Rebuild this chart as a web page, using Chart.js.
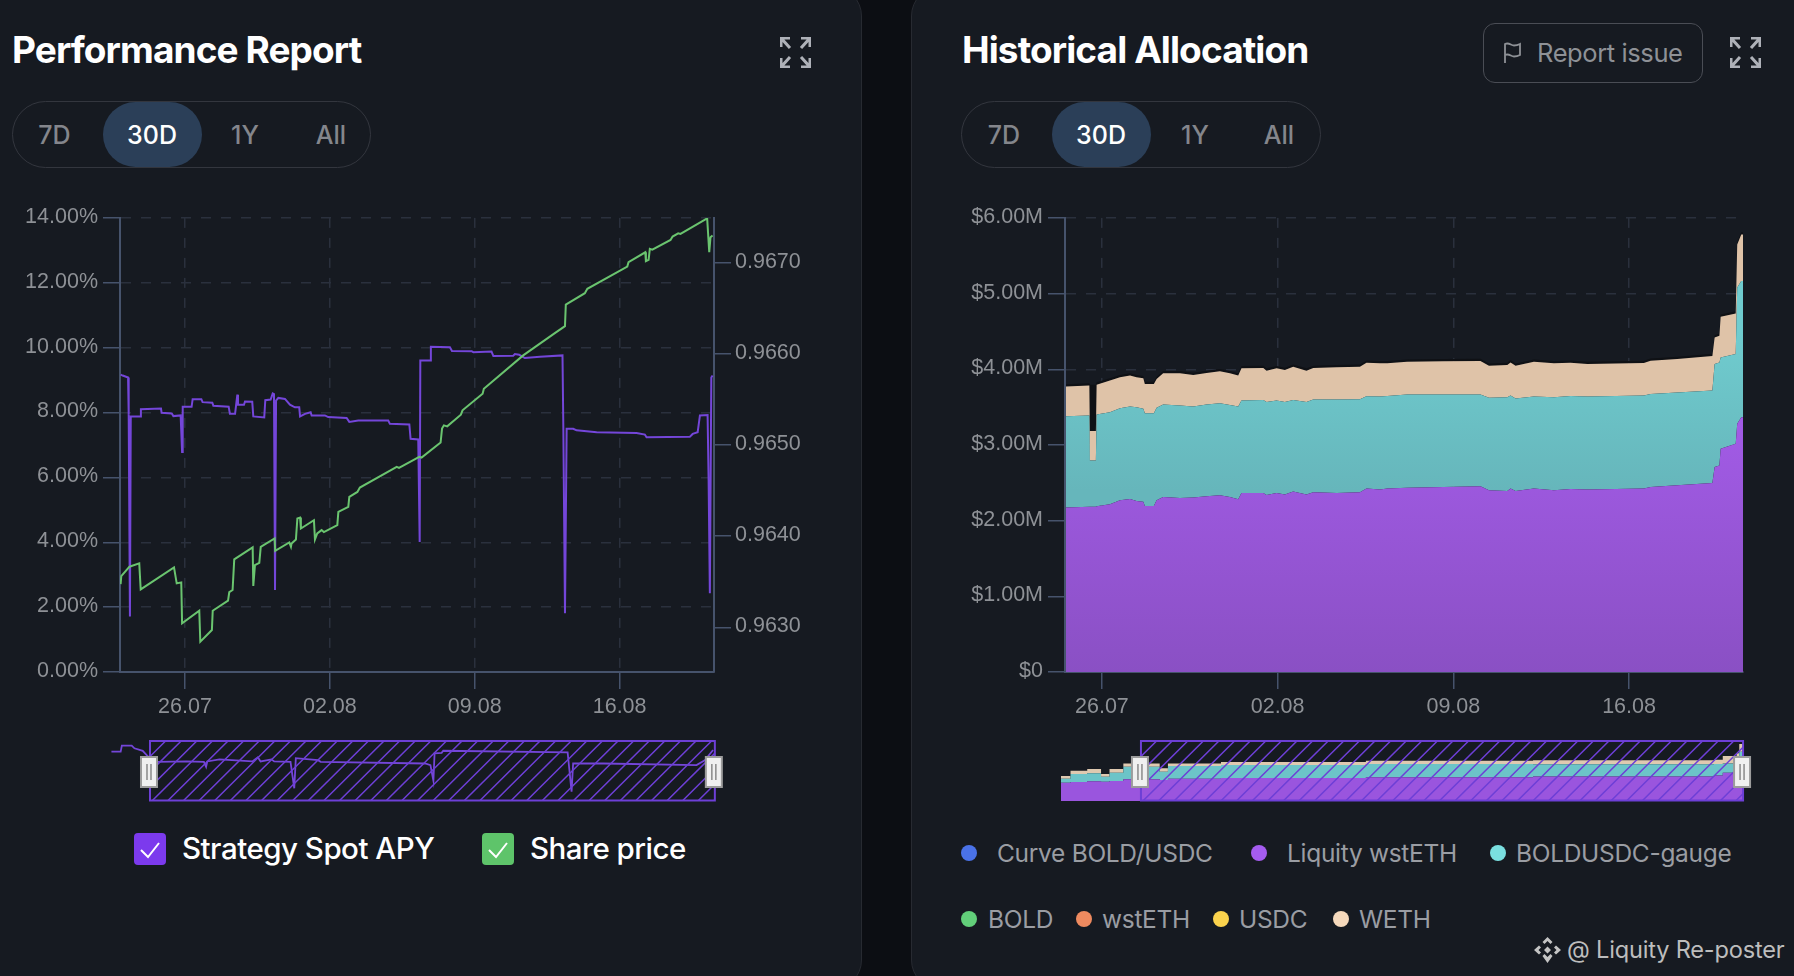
<!DOCTYPE html>
<html>
<head>
<meta charset="utf-8">
<title>Performance Report / Historical Allocation</title>
<script src="https://cdn.jsdelivr.net/npm/chart.js@4"></script>
<style>
  html, body { margin: 0; width: 1794px; height: 976px; overflow: hidden; background: #0c0e13; font-family: Inter, sans-serif; }
  .abs { position: absolute; white-space: nowrap; }
  canvas { position: absolute; display: block; }
  .panel { position: absolute; top: -14px; height: 1004px; background: #161a21; border: 1.5px solid #272a31; border-radius: 30px; box-sizing: border-box; }
  .title { color: #fff; font-size: 37px; font-weight: 700; letter-spacing: -0.9px; top: 28px; line-height: 44px; }
  .pill { top: 101px; height: 67px; box-sizing: border-box; border: 1.5px solid #33363e; border-radius: 34px; }
  .active { top: 102px; height: 65px; background: #2b3f58; border-radius: 33px; }
  .range { top: 102px; line-height: 67px; font-size: 25px; font-weight: 500; color: #84868c; transform: translateX(-50%); }
  .range.on { color: #fff; }
  .report { left: 1483px; top: 23px; width: 220px; height: 60px; box-sizing: border-box; border: 1.5px solid #4a4d55; border-radius: 12px; }
  .legend-check { top: 833px; width: 32px; height: 32px; border-radius: 4px; }
  .legend-big { top: 828px; line-height: 40px; font-size: 29.5px; font-weight: 500; color: #fff; letter-spacing: -0.5px; }
  .dot { width: 16px; height: 16px; border-radius: 50%; transform: translate(-50%, -50%); }
  .legend-small { line-height: 36px; font-size: 24.5px; color: #9a9da3; transform: translateY(-50%); letter-spacing: -0.3px; }
</style>
</head>
<body>
<div class="panel" style="left:-40px;width:902px"></div>
<div class="panel" style="left:911px;width:940px"></div>

<div class="abs title" style="left:12px">Performance Report</div>
<div class="abs title" style="left:962px">Historical Allocation</div>

<div class="abs pill" style="left:12px;width:359px"></div>
<div class="abs active" style="left:103px;width:99px"></div>
<div class="abs pill" style="left:961px;width:360px"></div>
<div class="abs active" style="left:1052px;width:99px"></div>
<div id="ranges"></div>

<svg class="abs" style="left:780px;top:37px" width="31" height="31" viewBox="0 0 31 31" fill="none" stroke="#aeb1b8" stroke-width="3"><path d="M1 10V1h9M1 1l9 10M30 10V1h-9M30 1l-9 10M1 21v9h9M1 30l9-10M30 21v9h-9M30 30l-9-10"/></svg>
<svg class="abs" style="left:1730px;top:37px" width="31" height="31" viewBox="0 0 31 31" fill="none" stroke="#aeb1b8" stroke-width="3"><path d="M1 10V1h9M1 1l9 10M30 10V1h-9M30 1l-9 10M1 21v9h9M1 30l9-10M30 21v9h-9M30 30l-9-10"/></svg>

<div class="abs report"></div>
<svg class="abs" style="left:1503px;top:42px" width="20" height="22" viewBox="0 0 20 22" fill="none" stroke="#8e9196" stroke-width="1.8"><path d="M2 21V2c4-2 6 1.500 9 1.500 2 0 4-.5 6-1.500v11c-2 1-4 1.500-6 1.500-3 0-5-3.500-9-1.500"/></svg>
<div class="abs" style="left:1537px;top:33px;line-height:40px;font-size:25.500px;color:#8e9196;letter-spacing:-0.4px">Report issue</div>

<canvas id="perfChart" width="860" height="530" style="left:0;top:200px"></canvas>
<canvas id="perfNav" width="630" height="80" style="left:100px;top:730px"></canvas>
<canvas id="allocChart" width="864" height="530" style="left:930px;top:200px"></canvas>
<canvas id="allocNav" width="710" height="80" style="left:1050px;top:730px"></canvas>

<div class="abs legend-check" style="left:134px;background:#7c3aed"></div>
<svg class="abs" style="left:139px;top:841px" width="22" height="18" viewBox="0 0 22 18" fill="none" stroke="#fff" stroke-width="2"><path d="M2 9l7 7L20 2"/></svg>
<div class="abs legend-big" style="left:182px">Strategy Spot APY</div>
<div class="abs legend-check" style="left:482px;background:#5ec46a"></div>
<svg class="abs" style="left:487px;top:841px" width="22" height="18" viewBox="0 0 22 18" fill="none" stroke="#fff" stroke-width="2"><path d="M2 9l7 7L20 2"/></svg>
<div class="abs legend-big" style="left:530px">Share price</div>
<div id="allocLegend"></div>

<svg class="abs" style="left:1534px;top:937px" width="27" height="26" viewBox="0 0 27 26" fill="#c4c4c4"><path d="M13.500 0l5 5-2 2-3-3-3 3-2-2zM5 8.500l2 2-2.500 2.500 2.500 2.500-2 2L0 13zM22 8.500l5 4.500-5 4.500-2-2 2.500-2.500-2.500-2.500zM13.500 9.500l3.500 3.500-3.500 3.500L10 13zM8.500 19l2-2 3 3 3-3 2 2-5 7z"/></svg>
<div class="abs" style="left:1567px;top:932px;line-height:36px;font-size:23.600px;color:#bdbdbd;letter-spacing:-0.2px">@ Liquity Re-poster</div>

<script>
// x values are days counted from 26.07
const dateTicks = [0, 7, 14, 21];
const dateLabels = ["26.07", "02.08", "09.08", "16.08"];
const rangeLabels = ["7D", "30D", "1Y", "All"];
const apyTicks = [0, 2, 4, 6, 8, 10, 12, 14];
const priceTicks = [0.963, 0.964, 0.965, 0.966, 0.967];
const allocTicks = [0, 1, 2, 3, 4, 5, 6];

const apyDays = [-3.11,-3.01,-2.75,-2.72,-2.66,-2.62,-2.17,-2.13,-1.16,-1.13,-0.64,-0.56,-0.21,-0.14,-0.11,0.32,0.37,0.79,0.85,1.32,1.37,2.11,2.17,2.42,2.53,2.56,2.85,2.90,3.25,3.30,3.83,3.88,4.14,4.24,4.30,4.35,4.40,4.51,4.83,5.07,5.31,5.52,5.56,5.80,6.07,6.12,6.76,6.92,7.81,7.94,8.37,9.82,9.90,10.84,10.90,11.27,11.34,11.37,11.84,11.88,12.80,12.90,13.85,13.93,14.81,14.90,15.86,15.94,16.15,16.42,17.15,18.24,18.28,18.36,18.44,18.76,18.92,19.89,21.82,22.22,22.30,24.39,24.53,24.77,24.88,25.25,25.30,25.36,25.43,25.49];
const apyValues = [9.17,9.14,9.08,7.95,1.71,7.88,7.88,8.10,8.12,7.99,7.97,7.89,7.91,6.78,8.18,8.18,8.41,8.41,8.32,8.30,8.21,8.18,7.96,7.96,8.55,8.24,8.24,8.34,8.33,7.88,7.85,8.38,8.40,8.59,8.57,2.53,8.37,8.45,8.42,8.24,8.16,8.16,7.88,7.96,8.01,7.91,7.91,7.86,7.83,7.71,7.75,7.75,7.65,7.63,7.19,7.17,4.01,9.60,9.60,10.03,10.01,9.90,9.89,9.86,9.88,9.74,9.75,9.80,9.78,9.68,9.72,9.76,7.55,1.81,7.50,7.50,7.45,7.39,7.37,7.32,7.24,7.25,7.34,7.39,7.91,7.92,5.90,2.43,9.08,9.14];

const priceDays = [-3.11,-3.08,-2.69,-2.62,-2.21,-2.14,-0.53,-0.40,-0.18,-0.14,0.69,0.74,1.30,1.34,2.08,2.14,2.30,2.38,3.27,3.30,3.38,3.59,3.66,4.33,4.36,5.04,5.12,5.15,5.36,5.43,5.56,5.60,6.23,6.28,6.39,6.60,6.71,7.36,7.41,7.89,7.94,8.33,8.45,10.23,10.34,11.32,11.43,12.35,12.42,12.51,12.67,13.33,13.41,14.38,14.44,16.34,17.87,18.36,18.40,19.32,19.44,21.37,21.43,22.24,22.27,22.40,22.46,22.58,23.46,23.56,23.83,23.94,25.23,25.33,25.39,25.49];
const priceValues = [0.963474,0.963562,0.963664,0.963670,0.963701,0.963416,0.963657,0.963482,0.963493,0.963044,0.963182,0.962843,0.962971,0.963182,0.963292,0.963387,0.963409,0.963745,0.963876,0.963453,0.963682,0.963708,0.963883,0.963974,0.963839,0.963931,0.963883,0.963920,0.963964,0.964193,0.964204,0.964084,0.964175,0.963964,0.964029,0.964066,0.964044,0.964120,0.964266,0.964321,0.964431,0.964485,0.964533,0.964759,0.964748,0.964869,0.964861,0.965026,0.965179,0.965215,0.965204,0.965332,0.965380,0.965562,0.965617,0.965982,0.966226,0.966303,0.966540,0.966664,0.966712,0.966956,0.967004,0.967113,0.967015,0.967029,0.967150,0.967142,0.967248,0.967285,0.967321,0.967314,0.967485,0.967113,0.967277,0.967296];

const navApyDays = [-5.10,-4.63,-4.57,-4.07,-3.93,-3.51,-3.24,-2.74,-1.29,-0.40,-0.29,-0.23,0.39,2.06,2.34,2.48,3.03,3.17,4.00,4.19,4.27,5.40,5.53,10.84,11.11,11.26,11.32,11.68,11.76,18.08,18.28,18.36,19.90,24.63,25.05,25.47];
const navApyValues = [10.07,10.07,11.54,11.54,10.9,10.3,8.9,7.6,7.7,7.6,6.4,7.7,8.2,7.7,8.7,7.7,8.2,7.7,7.6,1.15,8.5,8.0,7.6,7.2,6.8,3.0,9.7,9.8,10.3,9.9,0.3,7.2,7.2,6.8,8.0,10.5];

const allocDays = [-1.43,-0.50,-0.48,-0.24,-0.21,0.32,0.72,1.12,1.38,1.65,1.71,2.07,2.18,2.44,3.11,3.64,4.17,4.70,5.10,5.43,5.56,6.43,6.56,6.96,7.29,7.62,8.15,8.42,9.35,10.28,10.54,11.08,11.37,12.16,13.62,15.08,15.42,16.15,16.28,16.48,17.21,18.01,18.67,19.34,21.59,21.86,22.92,24.32,24.41,24.60,24.65,25.25,25.31,25.47,25.54];
const liquityWsteth = [2.173,2.182,2.182,2.182,2.191,2.217,2.270,2.287,2.261,2.248,2.195,2.195,2.270,2.313,2.300,2.305,2.322,2.335,2.313,2.283,2.366,2.366,2.340,2.366,2.344,2.384,2.344,2.375,2.366,2.375,2.423,2.410,2.423,2.436,2.445,2.454,2.401,2.392,2.423,2.392,2.423,2.401,2.419,2.410,2.423,2.445,2.467,2.498,2.708,2.730,2.950,3.016,3.279,3.367,3.367];
const boldusdcGauge = [1.207,1.207,0.614,0.614,1.211,1.216,1.216,1.220,1.238,1.229,1.225,1.225,1.220,1.221,1.221,1.202,1.212,1.216,1.216,1.224,1.220,1.229,1.229,1.220,1.225,1.211,1.225,1.225,1.234,1.229,1.221,1.229,1.225,1.230,1.221,1.212,1.221,1.238,1.229,1.221,1.216,1.229,1.229,1.229,1.229,1.229,1.225,1.220,1.361,1.361,1.207,1.185,1.800,1.800,1.800];
const weth = [0.391,0.395,0.387,0.387,0.395,0.417,0.408,0.409,0.395,0.404,0.386,0.386,0.382,0.412,0.425,0.417,0.417,0.422,0.417,0.409,0.426,0.422,0.413,0.426,0.421,0.439,0.413,0.417,0.425,0.430,0.443,0.439,0.430,0.434,0.439,0.443,0.425,0.426,0.439,0.434,0.461,0.448,0.439,0.430,0.431,0.439,0.443,0.457,0.352,0.351,0.536,0.536,0.571,0.614,0.614];
const darkTop = [0.03,0.03,0.614,0.614,0.03,0.03,0.03,0.03,0.03,0.03,0.03,0.03,0.03,0.03,0.03,0.03,0.03,0.03,0.03,0.03,0.03,0.03,0.03,0.03,0.03,0.03,0.03,0.03,0.03,0.03,0.03,0.03,0.03,0.03,0.03,0.03,0.03,0.03,0.03,0.03,0.03,0.03,0.03,0.03,0.03,0.03,0.03,0.03,0.03,0.03,0.03,0.03,0.03,0.03,0.03];
const curveSpikeDays = [-0.19,-0.19,-0.19,-0.19,-0.19];
const curveSpikeValues = [0,0.62,null,2.19,2.80];

const navAllocDays = [-5.06,-4.63,-3.88,-3.26,-2.88,-2.26,-0.63,-0.26,2.12,8.62,16.12,24.24,24.63,25.25,25.37,25.55];
const navWsteth = [1.79,1.85,1.92,1.89,1.95,2.11,2.05,2.18,2.24,2.31,2.40,2.50,2.76,2.86,3.67,3.67];
const navGauge = [0.39,0.78,0.78,0.48,0.81,1.24,0.81,1.23,1.27,1.30,1.18,1.10,0.91,1.14,1.14,1.14];
const navWeth = [0.26,0.33,0.42,0.26,0.36,0.32,0.33,0.26,0.29,0.32,0.40,0.42,0.72,0.65,0.75,0.75];

const allocLegendNames = ["Curve BOLD/USDC", "Liquity wstETH", "BOLDUSDC-gauge", "BOLD", "wstETH", "USDC", "WETH"];
const allocLegendColors = ["#4a72e8", "#a55cf0", "#7adfe0", "#62cf7a", "#ee8a5f", "#fbd34d", "#f5d9bc"];

const TICK = "#8e9196", AXIS = "#46536c", GRID = "#2a303d", PURPLE = "#7446d9", GREEN = "#6ac46f";

function pts(xs, ys) { return xs.map((x, i) => ({ x, y: ys[i] })); }

function setTicks(values) {
  return scale => { scale.ticks = values.map(value => ({ value })); };
}

function fit(prop, size) {
  return scale => { scale[prop] = size; };
}

function axisBase(extra) {
  return Object.assign({
    border: { color: AXIS, width: 2, dash: [10, 10] },
    grid: { color: GRID, tickColor: AXIS, tickLength: 17, tickBorderDash: [], lineWidth: 1.5 },
    ticks: { color: TICK, font: { family: "'Liberation Sans', Arial, sans-serif", size: 21.5 }, padding: 5, labelOffset: -1, maxRotation: 0, autoSkip: false }
  }, extra);
}

function xAxis(min, max) {
  const a = axisBase({ type: "linear", min, max, afterBuildTicks: setTicks(dateTicks), afterFit: fit("height", 58) });
  a.ticks.callback = v => dateLabels[dateTicks.indexOf(v)];
  a.ticks.padding = 5;
  a.ticks.labelOffset = 0;
  return a;
}

function vgrad(ctx, chart, stops) {
  const area = chart.chartArea;
  if (!area) return stops[0][1];
  const g = ctx.createLinearGradient(0, area.top, 0, area.bottom);
  stops.forEach(s => g.addColorStop(s[0], s[1]));
  return g;
}

const purpleFill = c => vgrad(c.chart.ctx, c.chart, [[0.45, "#a25be6"], [1, "#8a50c4"]]);
const tealFill = c => vgrad(c.chart.ctx, c.chart, [[0.25, "#70cccf"], [0.6, "#66b6bb"]]);

// hatched selection box with the two drag handles, for the small navigator charts
function navigatorPlugin(startDay, endDay) {
  return {
    id: "navigator",
    afterDatasetsDraw(chart) {
      const { ctx, scales } = chart;
      const x0 = scales.x.getPixelForValue(startDay), x1 = scales.x.getPixelForValue(endDay);
      const y0 = 11, y1 = 70.5;
      ctx.save();
      ctx.beginPath();
      ctx.rect(x0, y0, x1 - x0, y1 - y0);
      ctx.clip();
      ctx.strokeStyle = "#6d3fd6";
      ctx.lineWidth = 1.5;
      ctx.beginPath();
      for (let x = x0 - 60; x < x1 + 20; x += 15.6) {
        ctx.moveTo(x, y1);
        ctx.lineTo(x + 60, y0);
      }
      ctx.stroke();
      ctx.restore();
      ctx.strokeStyle = "#6d3fd6";
      ctx.lineWidth = 2;
      ctx.strokeRect(x0, y0, x1 - x0, y1 - y0);
      [x0 - 1, x1 - 1].forEach(x => {
        ctx.fillStyle = "#f0f0f0";
        ctx.strokeStyle = "#9c9c9c";
        ctx.lineWidth = 2;
        ctx.fillRect(x - 8, 27, 16, 30);
        ctx.strokeRect(x - 8, 27, 16, 30);
        ctx.strokeStyle = "#8a8a8a";
        ctx.lineWidth = 1.5;
        ctx.beginPath();
        ctx.moveTo(x - 2, 34); ctx.lineTo(x - 2, 50);
        ctx.moveTo(x + 2, 34); ctx.lineTo(x + 2, 50);
        ctx.stroke();
      });
    }
  };
}

const baseOpts = {
  responsive: false,
  animation: false,
  plugins: { legend: { display: false }, tooltip: { enabled: false } },
  elements: { point: { radius: 0 }, line: { tension: 0 } }
};

// range pills
const rangeSpots = [[54.5, 152, 245, 331], [1004, 1101, 1195, 1279]];
const rangesEl = document.getElementById("ranges");
rangeSpots.forEach(spots => {
  rangeLabels.forEach((label, i) => {
    const d = document.createElement("div");
    d.className = "abs range" + (i === 1 ? " on" : "");
    d.style.left = spots[i] + "px";
    d.textContent = label;
    rangesEl.appendChild(d);
  });
});

// allocation legend
const legendSpots = [[969, 997, 853], [1259, 1287, 853], [1498, 1516, 853], [969, 988, 919], [1084, 1102, 919], [1221, 1239, 919], [1341, 1359, 919]];
const legendEl = document.getElementById("allocLegend");
allocLegendNames.forEach((name, i) => {
  const [dotX, textX, y] = legendSpots[i];
  legendEl.insertAdjacentHTML("beforeend",
    `<div class="abs dot" style="left:${dotX}px;top:${y}px;background:${allocLegendColors[i]}"></div>` +
    `<div class="abs legend-small" style="left:${textX}px;top:${y}px">${name}</div>`);
});

// performance chart
const perfY = axisBase({ position: "left", min: 0, max: 14, afterBuildTicks: setTicks(apyTicks), afterFit: fit("width", 120) });
perfY.ticks.callback = v => v.toFixed(2) + "%";
const perfY1 = axisBase({ position: "right", min: 0.96251, max: 0.96749, afterBuildTicks: setTicks(priceTicks), afterFit: fit("width", 146) });
perfY1.ticks.callback = v => v.toFixed(4);
perfY1.ticks.padding = 4;
perfY1.grid = { drawOnChartArea: false, tickColor: AXIS, tickLength: 17, lineWidth: 1.5 };
perfY1.border = { color: AXIS, width: 2 };

new Chart(document.getElementById("perfChart"), {
  type: "line",
  data: {
    datasets: [
      { label: "Share price", data: pts(priceDays, priceValues), yAxisID: "y1", borderColor: GREEN, borderWidth: 2, order: 0 },
      { label: "Strategy Spot APY", data: pts(apyDays, apyValues), yAxisID: "y", borderColor: PURPLE, borderWidth: 2, order: 1 }
    ]
  },
  options: Object.assign({}, baseOpts, {
    layout: { padding: { top: 17 } },
    scales: { x: xAxis(-3.14, 25.56), y: perfY, y1: perfY1 }
  })
});

new Chart(document.getElementById("perfNav"), {
  type: "line",
  data: { datasets: [{ data: pts(navApyDays, navApyValues), borderColor: PURPLE, borderWidth: 1.8 }] },
  options: Object.assign({}, baseOpts, {
    scales: {
      x: { type: "linear", display: false, min: -5.68, max: 26.33 },
      y: { display: false, min: -4.15, max: 15.37 }
    }
  }),
  plugins: [navigatorPlugin(-3.14, 25.56)]
});

// allocation chart
const allocY = axisBase({ position: "left", stacked: true, min: 0, max: 6, afterBuildTicks: setTicks(allocTicks), afterFit: fit("width", 135) });
allocY.ticks.callback = v => v === 0 ? "$0" : "$" + v.toFixed(2) + "M";

new Chart(document.getElementById("allocChart"), {
  type: "line",
  data: {
    datasets: [
      { label: "Liquity wstETH", data: pts(allocDays, liquityWsteth), stack: "alloc", fill: "origin", borderWidth: 0, backgroundColor: purpleFill },
      { label: "BOLDUSDC-gauge", data: pts(allocDays, boldusdcGauge), stack: "alloc", fill: "-1", borderWidth: 0, backgroundColor: tealFill },
      { label: "WETH", data: pts(allocDays, weth), stack: "alloc", fill: "-1", borderWidth: 0, backgroundColor: "#dfc3a8" },
      { label: "edge", data: pts(allocDays, darkTop), stack: "alloc", fill: "-1", borderWidth: 0, backgroundColor: "#0f1115" },
      { label: "Curve BOLD/USDC", data: pts(curveSpikeDays, curveSpikeValues), stack: "curve", borderColor: "rgba(78,98,190,0.8)", borderWidth: 1 }
    ]
  },
  options: Object.assign({}, baseOpts, {
    layout: { padding: { top: 17, right: 51 } },
    scales: { x: xAxis(-1.47, 25.54), y: allocY }
  })
});

new Chart(document.getElementById("allocNav"), {
  type: "line",
  data: {
    datasets: [
      { data: pts(navAllocDays, navWsteth), stepped: true, fill: "origin", borderWidth: 0, backgroundColor: "#9a55de" },
      { data: pts(navAllocDays, navGauge), stepped: true, fill: "-1", borderWidth: 0, backgroundColor: "#6cc4c8" },
      { data: pts(navAllocDays, navWeth), stepped: true, fill: "-1", borderWidth: 0, backgroundColor: "#dfc9b0" }
    ]
  },
  options: Object.assign({}, baseOpts, {
    scales: {
      x: { type: "linear", display: false, min: -5.55, max: 26.3 },
      y: { display: false, stacked: true, min: -0.88, max: 6.93 }
    }
  }),
  plugins: [navigatorPlugin(-1.47, 25.54)]
});
</script>
</body>
</html>
